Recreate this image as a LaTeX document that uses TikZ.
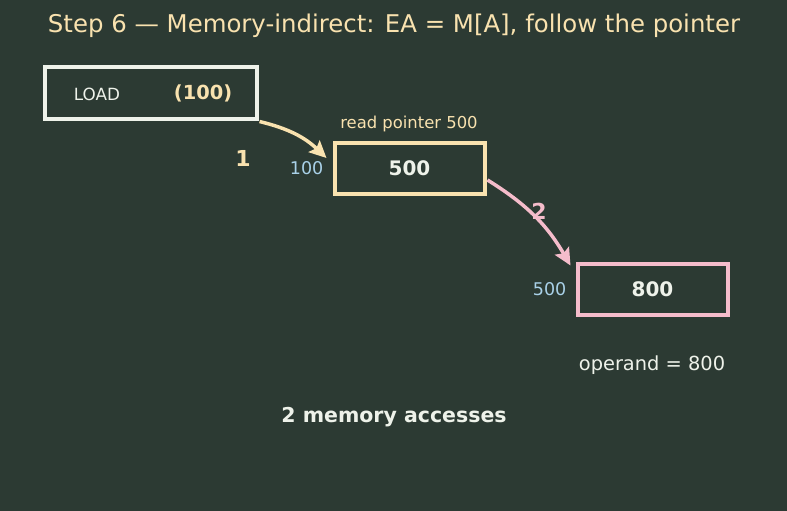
\documentclass[tikz,border=0pt]{standalone}
\usepackage{fontspec}
\setmainfont{DejaVu Sans}
\usepackage{tikz}
\usetikzlibrary{positioning, arrows.meta}
\definecolor{bgdark}{HTML}{2C3A33}
\definecolor{chalk}{HTML}{EEF2EA}
\definecolor{butter}{HTML}{F9E2AF}
\definecolor{rose}{HTML}{F5BCCB}
\definecolor{sky}{HTML}{A9D1E8}

\begin{document}
\begin{tikzpicture}[
    x=1pt, y=-1pt,
    cell/.style={rectangle, draw, line width=4pt, minimum width=150pt, minimum height=51pt, inner sep=0pt},
    val/.style={font=\fontsize{20}{24}\selectfont\bfseries, text=chalk},
    addr/.style={font=\fontsize{17.5}{20}\selectfont, text=sky, inner sep=0pt},
    hop/.style={font=\fontsize{22}{26}\selectfont\bfseries},
    arrow/.style={-{Stealth[length=17pt, width=16pt, inset=3pt]}, line width=3.5pt}
]
    % Canvas
    \fill[bgdark] (0,0) rectangle (787,511);
    \node[text=butter, font=\fontsize{24.4}{28}\selectfont] (title) at (394,26) {Step 6 — Memory-indirect: EA = M[A], follow the pointer};

    % Instruction
    \node[cell, draw=chalk, minimum width=212pt] (instr) at (150.5,93) {};
    \node[text=chalk, font=\fontsize{16.8}{20}\selectfont] (opcode) at (97,94) {LOAD};
    \node[text=butter, font=\fontsize{19.4}{22}\selectfont\bfseries] (operandA) at (203,93) {(100)};

    % Memory cells
    \node[cell, draw=butter] (ptr) at (409.5,168) {};
    \node[val] (ptrval) at (ptr) {500};
    \node[addr, left=9pt of ptr] (ptraddr) {100};
    \node[text=butter, font=\fontsize{16.4}{20}\selectfont] (ptrnote) at (409,124) {read pointer 500};

    \node[cell, draw=rose] (data) at (652.5,289) {};
    \node[val] (dataval) at (data) {800};
    \node[addr, left=9pt of data] (dataaddr) {500};

    % Accesses
    \draw[arrow, butter] ([shift={(1,1)}]instr.south east) to[bend left=15] ([shift={(-6,-10)}]ptr.west);
    \node[hop, text=butter] (hop1) at (243,158) {1};
    \draw[arrow, rose] ([shift={(1,12)}]ptr.east) to[bend left=14] ([shift={(-5,4)}]data.north west);
    \node[hop, text=rose] (hop2) at (539,211) {2};

    % Result
    \node[text=chalk, font=\fontsize{19.4}{23}\selectfont] (result) at (652,365) {operand = 800};
    \node[text=chalk, font=\fontsize{20.5}{24}\selectfont\bfseries] (summary) at (394,417) {2 memory accesses};
\end{tikzpicture}
\end{document}
